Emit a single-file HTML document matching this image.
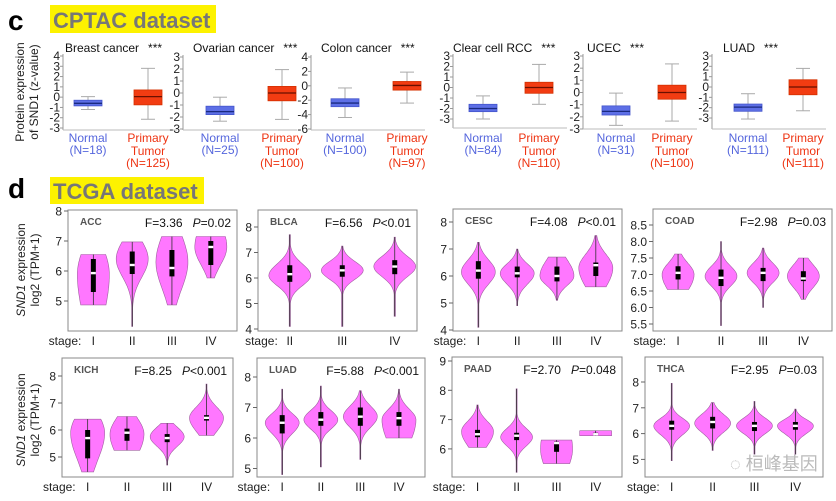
<!DOCTYPE html>
<html><head><meta charset="utf-8"><style>
html,body{margin:0;padding:0;background:#fff;}
svg{display:block;font-family:"Liberation Sans","Noto Sans CJK SC",sans-serif;}
</style></head><body>
<svg id="chart" width="836" height="501" viewBox="0 0 836 501" xmlns="http://www.w3.org/2000/svg">
<text x="8" y="30" font-size="28" font-weight="bold" fill="#000">c</text>
<rect x="50" y="5" width="166" height="28" fill="#fdf200"/>
<text x="53" y="28" font-size="22" font-weight="bold" fill="#777">CPTAC dataset</text>
<text x="8" y="198" font-size="28" font-weight="bold" fill="#000">d</text>
<rect x="50" y="177" width="154" height="27" fill="#fdf200"/>
<text x="53" y="199" font-size="22" font-weight="bold" fill="#777">TCGA dataset</text>
<text transform="translate(24,92) rotate(-90)" text-anchor="middle" font-size="12" fill="#222"><tspan x="0" dy="0">Protein expression</tspan><tspan x="0" dy="14">of SND1 (z-value)</tspan></text>
<text transform="translate(25,270) rotate(-90)" text-anchor="middle" font-size="12" fill="#222"><tspan x="0" dy="0"><tspan font-style="italic">SND1</tspan> expression</tspan><tspan x="0" dy="14">log2 (TPM+1)</tspan></text>
<text transform="translate(25,420) rotate(-90)" text-anchor="middle" font-size="12" fill="#222"><tspan x="0" dy="0"><tspan font-style="italic">SND1</tspan> expression</tspan><tspan x="0" dy="14">log2 (TPM+1)</tspan></text>
<text x="730" y="470" font-size="18" fill="#aaa" opacity="0.8">◌ 桓峰基因</text>
</svg>
<script>
// ===== CPTAC box plot data =====
const cptacCancers = ["Breast cancer","Ovarian cancer","Colon cancer","Clear cell RCC","UCEC","LUAD"];
const normalN = [18,25,100,84,31,111];
const tumorN = [125,100,97,110,100,111];
const normalMin = [-1.2,-2.35,-4.4,-3.0,-2.7,-3.1];
const normalQ1 = [-0.85,-1.8,-2.9,-2.3,-1.85,-2.35];
const normalMed = [-0.6,-1.55,-2.4,-2.0,-1.55,-1.95];
const normalQ3 = [-0.3,-1.1,-1.8,-1.6,-1.1,-1.65];
const normalMax = [0.05,-0.35,-0.3,-0.8,-0.05,-0.65];
const tumorMin = [-2.15,-2.2,-2.4,-1.6,-2.35,-2.3];
const tumorQ1 = [-0.75,-0.65,-0.6,-0.55,-0.55,-0.75];
const tumorMed = [0.05,0.0,0.05,0.0,0.0,0.0];
const tumorQ3 = [0.7,0.55,0.6,0.5,0.6,0.7];
const tumorMax = [2.8,1.95,1.9,2.2,2.35,1.8];
const cptacTickTop = [4,3,4,3,3,3];
const cptacTickBottom = [-3,-3,-6,-3,-3,-3];
const cptacTickStep = [1,1,2,1,1,1];

// ===== TCGA violin data =====
const accStages=["I","II","III","IV"];
const accMin=[4.87,4.15,4.87,5.77], accQ1=[5.3,5.9,5.82,6.2], accMed=[5.93,6.2,6.1,6.8], accQ3=[6.4,6.65,6.7,7.0], accMax=[6.55,6.97,7.15,7.15];
const accPeak=[5.9,6.4,6.3,6.8], accSdUp=[0.9,0.6,0.9,0.8], accSdDn=[1.5,0.6,0.9,0.6];
const blcaStages=["II","III","IV"];
const blcaMin=[4.1,4.1,4.5], blcaQ1=[5.85,6.05,6.15], blcaMed=[6.15,6.3,6.45], blcaQ3=[6.5,6.5,6.7], blcaMax=[7.7,7.25,7.6];
const blcaPeak=[6.1,6.3,6.45], blcaSdUp=[0.45,0.35,0.4], blcaSdDn=[0.4,0.35,0.4];
const cescStages=["I","II","III","IV"];
const cescMin=[4.1,4.9,5.1,5.6], cescQ1=[5.9,5.95,5.8,6.0], cescMed=[6.2,6.1,6.0,6.4], cescQ3=[6.55,6.35,6.35,6.5], cescMax=[7.25,7.0,6.7,7.5];
const cescPeak=[6.15,6.1,6.0,6.3], cescSdUp=[0.45,0.35,0.6,0.5], cescSdDn=[0.45,0.4,0.35,0.7];
const coadStages=["I","II","III","IV"];
const coadMin=[6.55,5.45,6.0,6.25], coadQ1=[6.85,6.65,6.8,6.8], coadMed=[7.05,6.9,7.05,6.88], coadQ3=[7.25,7.15,7.2,7.1], coadMax=[7.62,8.0,7.8,7.5];
const coadPeak=[7.0,6.95,7.05,6.95], coadSdUp=[0.35,0.3,0.3,0.35], coadSdDn=[0.5,0.3,0.3,0.35];
const kichStages=["I","II","III","IV"];
const kichMin=[4.45,5.25,4.7,5.8], kichQ1=[4.95,5.6,5.55,6.35], kichMed=[5.7,5.9,5.7,6.45], kichQ3=[6.0,6.05,5.85,6.55], kichMax=[6.4,6.5,6.25,7.7];
const kichPeak=[5.9,5.85,5.75,6.45], kichSdUp=[0.7,0.6,0.35,0.4], kichSdDn=[1.0,0.8,0.35,0.5];
const luadStages=["I","II","III","IV"];
const luadMin=[4.8,5.05,5.3,6.0], luadQ1=[6.15,6.4,6.4,6.4], luadMed=[6.5,6.6,6.7,6.65], luadQ3=[6.75,6.85,7.0,6.85], luadMax=[7.6,7.7,7.55,7.6];
const luadPeak=[6.5,6.6,6.7,6.6], luadSdUp=[0.3,0.3,0.35,0.35], luadSdDn=[0.35,0.3,0.35,0.8];
const paadStages=["I","II","III","IV"];
const paadMin=[6.05,5.2,5.5,6.45], paadQ1=[6.4,6.3,5.9,6.48], paadMed=[6.5,6.45,6.2,6.5], paadQ3=[6.65,6.55,6.25,6.55], paadMax=[7.5,8.05,6.3,6.62];
const paadPeak=[6.6,6.4,6.0,6.5], paadSdUp=[0.35,0.3,1.0,1.0], paadSdDn=[0.5,0.3,0.8,1.0];
const thcaStages=["I","II","III","IV"];
const thcaMin=[4.95,5.35,5.2,5.2], thcaQ1=[6.15,6.2,6.1,6.15], thcaMed=[6.3,6.45,6.3,6.3], thcaQ3=[6.5,6.65,6.45,6.45], thcaMax=[7.95,7.2,7.25,6.95];
const thcaPeak=[6.3,6.4,6.3,6.3], thcaSdUp=[0.3,0.35,0.3,0.25], thcaSdDn=[0.35,0.35,0.3,0.3];
const tcgaF=["3.36","6.56","4.08","2.98","8.25","5.88","2.70","2.95"];
const tcgaP=["=0.02","<0.01","<0.01","=0.03","<0.001","<0.001","=0.048","=0.03"];
const accTicks=[5,6,7,8], blcaTicks=[4,5,6,7,8], cescTicks=[4,5,6,7,8];
const coadTicks=[5.5,6.0,6.5,7.0,7.5,8.0,8.5], kichTicks=[5,6,7,8], luadTicks=[5,6,7,8];
const paadTicks=[6,7,8,9], thcaTicks=[5,6,7,8];

const NS='http://www.w3.org/2000/svg';
const svg=document.getElementById('chart');
function mk(tag,attrs,text){const e=document.createElementNS(NS,tag);for(const k in attrs)e.setAttribute(k,attrs[k]);if(text!=null)e.textContent=text;svg.appendChild(e);return e;}

const cL=[
 {ax:63,yT:56,yB:128,axB:130,nx:88,tx:148,title:65},
 {ax:183,yT:57,yB:129,axB:130,nx:220,tx:282,title:193},
 {ax:311,yT:57,yB:129,axB:130,nx:345,tx:407,title:321},
 {ax:453,yT:56,yB:119,axB:128,nx:483,tx:539,title:453},
 {ax:583,yT:56,yB:129,axB:129,nx:616,tx:672,title:587},
 {ax:712,yT:56,yB:118,axB:129,nx:748,tx:803,title:723}
];
cptacCancers.forEach((name,i)=>{
 const L=cL[i];
 const y=v=>L.yT+(cptacTickTop[i]-v)*(L.yB-L.yT)/(cptacTickTop[i]-cptacTickBottom[i]);
 let e=mk('text',{x:L.title,y:52,'font-size':12,fill:'#111'});
 e.innerHTML=name+'<tspan dx="9">***</tspan>';
 
 
 e=mk('line',{x1:L.ax,y1:L.yT-2,x2:L.ax,y2:L.axB,stroke:'#999','stroke-width':1});
 
 
 e=mk('line',{x1:L.ax,y1:L.axB,x2:L.ax+114,y2:L.axB,stroke:'#bbb','stroke-width':1});
 
 
 for(let t=cptacTickTop[i];t>=cptacTickBottom[i];t-=cptacTickStep[i]){
  e=mk('line',{x1:L.ax-3,y1:y(t),x2:L.ax,y2:y(t),stroke:'#999'});
  
  
  e=mk('text',{x:L.ax-3,y:y(t)+4,'font-size':12,'text-anchor':'end',fill:'#222'},String(t));
  
  
 }
 const groups=[
  {x:L.nx,mn:normalMin[i],q1:normalQ1[i],md:normalMed[i],q3:normalQ3[i],mx:normalMax[i],fill:'#5d6fe6',st:'#4455cc',med:'#1a2a80',nm:'normal'},
  {x:L.tx,mn:tumorMin[i],q1:tumorQ1[i],md:tumorMed[i],q3:tumorQ3[i],mx:tumorMax[i],fill:'#f23c12',st:'#d43000',med:'#6a1000',nm:'tumor'}];
 groups.forEach(g=>{
  e=mk('line',{x1:g.x,y1:y(g.mn),x2:g.x,y2:y(g.mx),stroke:'#aaa'});
  
  
  [g.mn,g.mx].forEach(v=>{
   e=mk('line',{x1:g.x-7,y1:y(v),x2:g.x+7,y2:y(v),stroke:'#aaa'});
   
   
  });
  e=mk('rect',{x:g.x-14,y:y(g.q3),width:28,height:y(g.q1)-y(g.q3),fill:g.fill,stroke:g.st,'stroke-width':0.8});
  
  
  e=mk('line',{x1:g.x-14,y1:y(g.md),x2:g.x+14,y2:y(g.md),stroke:g.med,'stroke-width':1.3});
  
  
 });
 e=mk('text',{x:L.nx,y:142,'font-size':12,'text-anchor':'middle',fill:'#5566dd'},'Normal');
 
 
 e=mk('text',{x:L.nx,y:154,'font-size':12,'text-anchor':'middle',fill:'#5566dd'},'(N='+normalN[i]+')');
 
 
 e=mk('text',{x:L.tx,y:142,'font-size':12,'text-anchor':'middle',fill:'#ee3311'},'Primary');
 
 
 e=mk('text',{x:L.tx,y:155,'font-size':12,'text-anchor':'middle',fill:'#ee3311'},'Tumor');
 
 
 e=mk('text',{x:L.tx,y:167,'font-size':12,'text-anchor':'middle',fill:'#ee3311'},'(N='+tumorN[i]+')');
 
 
});

const P=[
 {nm:'ACC',x0:68,x1:237,y0:210,y1:331,vT:8,yT:211,ppu:30,hw:16,fx:[0.15,0.38,0.615,0.845],ticks:accTicks,st:accStages,mn:accMin,q1:accQ1,md:accMed,q3:accQ3,mx:accMax,pk:accPeak,su:accSdUp,sd:accSdDn,ly:345},
 {nm:'BLCA',x0:258,x1:417,y0:210,y1:331,vT:8,yT:227,ppu:25.5,hw:21,fx:[0.2,0.53,0.86],ticks:blcaTicks,st:blcaStages,mn:blcaMin,q1:blcaQ1,md:blcaMed,q3:blcaQ3,mx:blcaMax,pk:blcaPeak,su:blcaSdUp,sd:blcaSdDn,ly:345},
 {nm:'CESC',x0:453,x1:622,y0:209,y1:331,vT:8,yT:222,ppu:27,hw:17,fx:[0.15,0.38,0.615,0.845],ticks:cescTicks,st:cescStages,mn:cescMin,q1:cescQ1,md:cescMed,q3:cescQ3,mx:cescMax,pk:cescPeak,su:cescSdUp,sd:cescSdDn,ly:345},
 {nm:'COAD',x0:653,x1:832,y0:209,y1:331,vT:8.5,yT:225,ppu:33,hw:16,fx:[0.14,0.38,0.615,0.84],ticks:coadTicks,st:coadStages,mn:coadMin,q1:coadQ1,md:coadMed,q3:coadQ3,mx:coadMax,pk:coadPeak,su:coadSdUp,sd:coadSdDn,ly:345,dec:1},
 {nm:'KICH',x0:62,x1:233,y0:358,y1:477,vT:8,yT:376,ppu:27,hw:17,fx:[0.15,0.38,0.615,0.845],ticks:kichTicks,st:kichStages,mn:kichMin,q1:kichQ1,md:kichMed,q3:kichQ3,mx:kichMax,pk:kichPeak,su:kichSdUp,sd:kichSdDn,ly:491},
 {nm:'LUAD',x0:257,x1:425,y0:358,y1:477,vT:8,yT:377,ppu:30.5,hw:17,fx:[0.15,0.38,0.615,0.845],ticks:luadTicks,st:luadStages,mn:luadMin,q1:luadQ1,md:luadMed,q3:luadQ3,mx:luadMax,pk:luadPeak,su:luadSdUp,sd:luadSdDn,ly:491},
 {nm:'PAAD',x0:452,x1:622,y0:357,y1:477,vT:9,yT:361,ppu:29.3,hw:16,fx:[0.15,0.38,0.615,0.845],ticks:paadTicks,st:paadStages,mn:paadMin,q1:paadQ1,md:paadMed,q3:paadQ3,mx:paadMax,pk:paadPeak,su:paadSdUp,sd:paadSdDn,ly:491},
 {nm:'THCA',x0:645,x1:823,y0:357,y1:477,vT:8,yT:382,ppu:25.8,hw:18,fx:[0.15,0.38,0.615,0.845],ticks:thcaTicks,st:thcaStages,mn:thcaMin,q1:thcaQ1,md:thcaMed,q3:thcaQ3,mx:thcaMax,pk:thcaPeak,su:thcaSdUp,sd:thcaSdDn,ly:491}
];
P.forEach((p,pi)=>{
 const y=v=>p.yT+(p.vT-v)*p.ppu;
 let e=mk('rect',{x:p.x0,y:p.y0,width:p.x1-p.x0,height:p.y1-p.y0,fill:'none',stroke:'#888','stroke-width':1});
 
 
 e=mk('text',{x:p.x0+12,y:p.y0+15,'font-size':10,'font-weight':'bold',fill:'#555'},p.nm);
 
 
 e=mk('text',{x:p.x1-6,y:p.y0+17,'font-size':12,'text-anchor':'end',fill:'#111'});
 e.innerHTML='F='+tcgaF[pi]+'<tspan dx="10" font-style="italic">P</tspan>'+tcgaP[pi].replace('<','&lt;');
 
 
 p.ticks.forEach(t=>{
  e=mk('line',{x1:p.x0-4,y1:y(t),x2:p.x0,y2:y(t),stroke:'#666'});
  
  
  e=mk('text',{x:p.x0-6,y:y(t)+4.5,'font-size':12,'text-anchor':'end',fill:'#222'},p.dec?t.toFixed(1):String(t));
  
  
 });
 const W=p.x1-p.x0;
 e=mk('text',{x:p.x0+p.fx[0]*W-12,y:p.ly,'font-size':12,'text-anchor':'end',fill:'#222'},'stage:');
 
 
 p.st.forEach((s,i)=>{
  const cx=p.x0+p.fx[i]*W;
  e=mk('text',{x:cx,y:p.ly,'font-size':12,'text-anchor':'middle',fill:'#222'},s);
  
  
  const lo=p.mn[i],hi=p.mx[i],N=40;let R=[],Lf=[];
  for(let k=0;k<=N;k++){
   const v=lo+(hi-lo)*k/N;const sdv=v>p.pk[i]?p.su[i]:p.sd[i];
   const w=p.hw*Math.max(0.03,Math.exp(-0.5*Math.pow((v-p.pk[i])/sdv,2)));
   R.push((cx+w).toFixed(1)+','+y(v).toFixed(1));Lf.unshift((cx-w).toFixed(1)+','+y(v).toFixed(1));
  }
  e=mk('polygon',{points:R.concat(Lf).join(' '),fill:'#ff77ff',stroke:'#a060a0','stroke-width':0.6});
  
  
  e=mk('line',{x1:cx,y1:y(hi),x2:cx,y2:y(lo),stroke:'#333','stroke-width':0.8});
  
  
  e=mk('rect',{x:cx-2.5,y:y(p.q3[i]),width:5,height:y(p.q1[i])-y(p.q3[i]),fill:'#000'});
  
  
  e=mk('rect',{x:cx-2.5,y:y(p.md[i])-1.2,width:5,height:2.4,fill:'#fff'});
  
  
 });
});
</script>
</body></html>
